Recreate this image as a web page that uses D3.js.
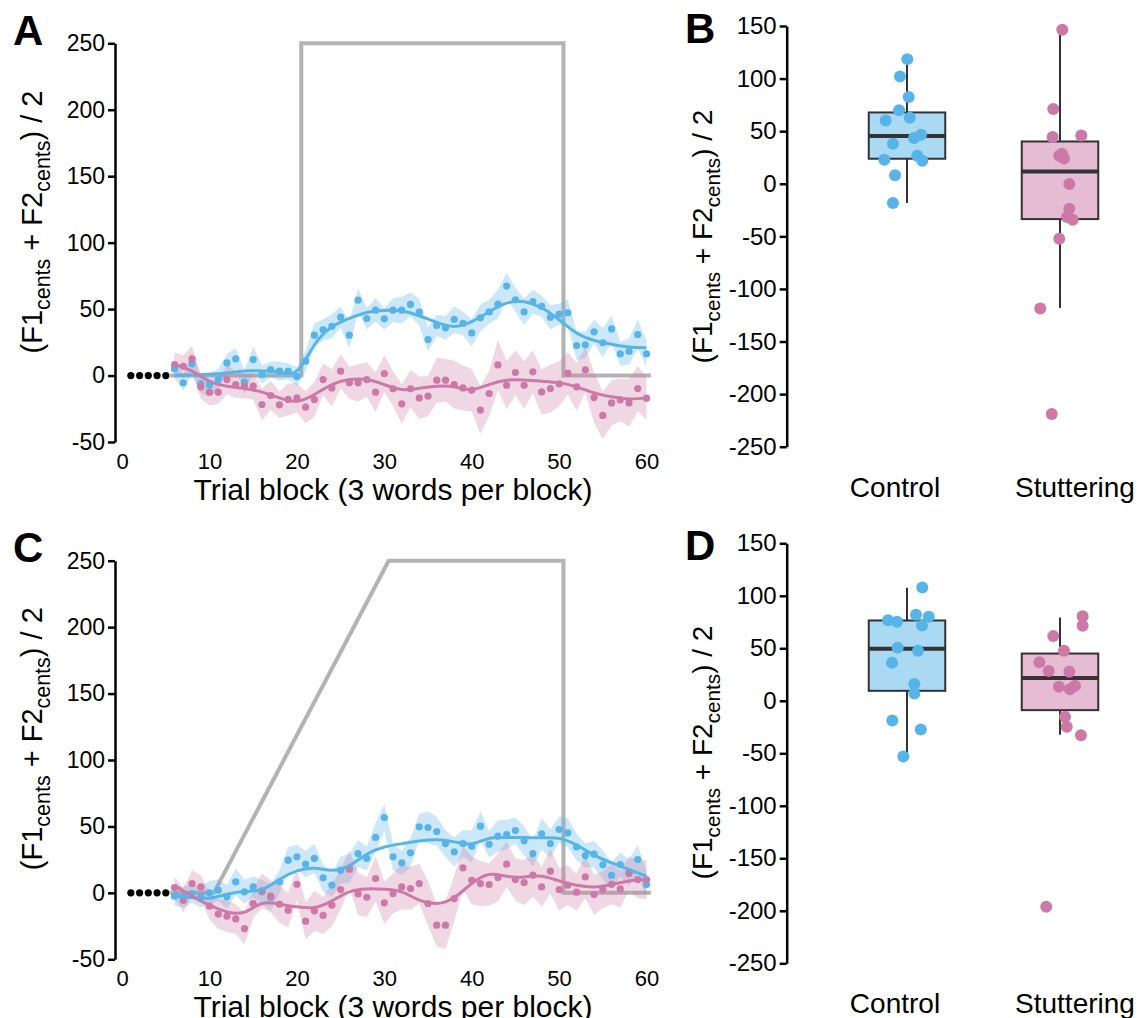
<!DOCTYPE html>
<html><head><meta charset="utf-8">
<script src="https://cdn.jsdelivr.net/npm/d3@7"></script>
<style>body{margin:0;background:#fff}svg{display:block}text{font-family:"Liberation Sans",Arial,sans-serif}</style>
</head><body><svg id="c" width="1138" height="1018"></svg>
<script>
// ---------- data ----------
const trials = d3.range(6, 61);            // trial blocks with data
const baselineTrials = [1, 2, 3, 4, 5];
const smoothTrials = d3.range(6, 61, 2);   // knots of fitted curves
const xTicks = [0, 10, 20, 30, 40, 50, 60];
const yTicksLine = [-50, 0, 50, 100, 150, 200, 250];
const yTicksBox = [-250, -200, -150, -100, -50, 0, 50, 100, 150];
const groups = ["Control", "Stuttering"];

// perturbation profiles [trial, cents]
const pertA = [[5.5, 0], [20.5, 0], [20.5, 250], [50.5, 250], [50.5, 0], [60.5, 0]];
const pertC = [[5.5, 0], [10.5, 0], [30.5, 250], [50.5, 250], [50.5, 0], [60.5, 0]];

// Panel A (sudden)
const aControl = [5, -5.5, 8.8, -6, -7, -3, 9.5, 12.5, -5, 12, 0.8, 4.5, 3.3, 3.3, -0.8,
  10.8, 30.4, 34.4, 37.1, 43.9, 30.4, 56.7, 42.9, 49.2, 42.7,
  49.2, 49.2, 53.5, 47.7, 27.1, 37.7, 35.9, 42.2, 39.2, 32.1,
  43.4, 47.9, 53.7, 67.3, 57, 47.9, 55.7, 52, 43.9, 46.2,
  47.2, 22.6, 23.1, 32.9, 24.6, 35.1, 16.3, 18.3, 30.9, 16.3];
const aControlSE = [7, 6, 8, 7, 9, 8, 7, 8, 9, 10, 7, 6, 7, 6, 7,
  8, 9, 8, 9, 8, 10, 9, 8, 9, 8,
  9, 10, 9, 10, 9, 8, 9, 10, 9, 10,
  10, 9, 11, 10, 9, 10, 9, 8, 9, 8,
  10, 11, 10, 9, 11, 10, 9, 10, 11, 10];
const aStutter = [8.3, 7, 12.5, -8.5, -12.5, -12.5, -3, -6.8, -8, -8, -21.8, -15, -22, -18, -16.8,
  -23.8, -18, -3, -9.3, 3.3, -5.5, -5.5, -3, -12.5, 1.5,
  -10, -21.3, -10, -16.8, -15.5, -3.5, -3.5, -6.8, -9.3, -11,
  -26, -13.5, 8, -7.3, 2.3, -7.3, 2.8, -12.3, -9.8, -6.3,
  1.8, -8.5, 4.3, -16.6, -30, -20.6, -18.3, -20.6, -9.8, -17];
const aStutterSE = [9, 8, 10, 9, 10, 9, 11, 10, 9, 10, 12, 11, 10, 12, 11,
  12, 13, 12, 14, 13, 12, 14, 13, 15, 14,
  13, 15, 14, 16, 15, 17, 16, 18, 17, 16,
  18, 17, 19, 18, 17, 18, 16, 17, 18, 17,
  16, 18, 17, 19, 18, 17, 16, 18, 17, 16];
const aControlFit = [0, 0.5, 1, 2, 3.5, 3.5, 2.5, 3.5, 23, 36.5, 43, 47.5, 49, 48.5,
  45, 40, 37, 40.5, 48, 54.5, 55.5, 51, 42, 32, 26.5, 23.5, 21.5, 21];
const aStutterFit = [8.3, 3.3, -4.3, -8, -9.8, -12.5, -16.8, -19.3, -14.3, -6.8, -3, -3, -6.8, -10.5,
  -9.5, -8, -8.5, -10.5, -6.8, -3.5, -3.3, -4.3, -5.5, -8.5, -13, -16, -17.6, -16.8];

// Panel C (gradual)
const cControl = [-2.5, -3, -0.5, -3, 0, 2, -3, 8.3, 0.8, 4.5, 0.8, -3.5, 8.3, 24.6, 27.1,
  21.6, 25.9, 11.3, 5.8, 17.1, 18.3, 29.6, 25.9, 41.7, 56.7,
  27.1, 22.6, 30.1, 49.7, 49.2, 46.2, 37.1, 30.9, 37.1, 35.1,
  50.2, 36.6, 42.7, 43.9, 46.9, 39.2, 29.6, 44.4, 37.1, 47.7,
  45.2, 34.6, 28.1, 29.1, 21.1, 13.1, 21.3, 15.1, 25.1, 6.3];
const cControlSE = [7, 8, 7, 8, 9, 8, 9, 10, 9, 8, 9, 10, 9, 10, 9,
  10, 11, 10, 9, 10, 11, 10, 9, 11, 10,
  10, 9, 11, 10, 12, 11, 10, 11, 10, 12,
  11, 10, 12, 11, 10, 11, 10, 12, 11, 10,
  11, 10, 9, 10, 11, 10, 9, 10, 11, 10];
const cStutter = [4, -5.5, 7, 4.5, -10, -16, -17.6, -19.6, -26.9, -8, 1.5, -2.5, -8.5, -13, 6.5,
  -21.3, -13.5, -17, -9.3, 2.5, 17.8, -0.8, -3.3, 10.8, -7.5,
  -0.5, 4.5, 3.3, 7, -8, -24.3, -24.3, -4.3, 18.8, 9.5,
  7, 6.3, 11.5, 21.6, 10, 7.8, 13.3, 4.5, 16.3, 2.5,
  5.8, 0.5, 12, -1.3, 2.5, 6.5, 3, 14.6, 10, 10];
const cStutterSE = [8, 9, 10, 9, 10, 11, 12, 11, 12, 11, 13, 12, 14, 13, 12,
  14, 15, 14, 16, 15, 14, 16, 15, 17, 16,
  15, 17, 16, 15, 17, 16, 18, 17, 16, 18,
  17, 16, 18, 17, 16, 17, 16, 15, 17, 16,
  15, 14, 16, 15, 14, 15, 14, 13, 14, 15];
const cControlFit = [-2.5, -3.5, -4, -1, 1, 2.5, 10, 16.5, 18.5, 17, 20.5, 29, 34.5, 37,
  39, 40, 38.4, 37, 41, 41.7, 41.7, 41.4, 41, 36, 28.4, 22.6, 17.6, 12.5];
const cStutterFit = [5.8, -2.5, -9.3, -14.3, -14.5, -8, -8.5, -10.5, -11, -6, 0.8, 3, 2.8, 0.8,
  -5.5, -8, -3.5, 7, 13.8, 12.5, 12, 12.5, 9, 5.8, 4.5, 6.3, 9, 10];

// Panel B (participant means, sudden)
const bControlVals = [118.5, 102, 82.4, 70, 60.2, 62.7, 46.6, 43.4, 38, 22.8, 26.6, 21.9, 8.2, -18.4];
const bControlJit = [0.002, -0.046, 0.011, -0.052, -0.139, 0.018, 0.092, 0.046, -0.092, -0.148, 0.067, 0.1, -0.078, -0.092];
const bStutterVals = [146.4, 71, 44.4, 45.9, 26.6, 28.5, 24.1, -0.3, -23.8, -31.7, -34.2, -52.3, -118.5, -219];
const bStutterJit = [0.015, -0.044, -0.048, 0.139, -0.005, 0.013, 0.026, 0.061, 0.061, 0.046, 0.083, -0.005, -0.129, -0.054];
// box stats: [lowWhisker, q1, median, q3, highWhisker]
const bControlBox = [-18.4, 23.8, 45.3, 67.8, 118.5];
const bStutterBox = [-118.2, -33.6, 11.7, 40.2, 146.4];

// Panel D (participant means, gradual)
const dControlVals = [108, 82, 80, 76.8, 75.2, 71.7, 50.5, 47.6, 36.2, 15.9, 7, -18.7, -27.3, -53];
const dControlJit = [0.1, 0.059, 0.142, -0.124, -0.065, 0.098, -0.061, 0.072, -0.098, 0.048, 0.048, -0.096, 0.09, -0.024];
const dStutterVals = [80.6, 71.4, 61.6, 47.6, 36.8, 28.3, 27.6, 13.3, 14.3, 11.1, -15.2, -24.8, -32.7, -196.2];
const dStutterJit = [0.148, 0.148, -0.044, 0.026, -0.135, -0.074, 0.061, -0.007, 0.098, 0.065, 0.033, 0.044, 0.137, -0.09];
const dControlBox = [-53, 9.5, 49.5, 76.5, 107.6];
const dStutterBox = [-32.4, -8.9, 21.6, 45, 79.4];

// ---------- style ----------
const BLUE = "#56b4e9", PINK = "#cc79a7", GREY = "#b3b3b3";
const svg = d3.select("#c");

function yTitle(x, y, size) {
  const t = svg.append("text")
    .attr("transform", `translate(${x},${y}) rotate(-90)`)
    .attr("text-anchor", "middle").attr("font-size", size).attr("fill", "#000");
  const sh = size * 0.28;
  t.append("tspan").text("(F1");
  t.append("tspan").attr("font-size", size * 0.74).attr("dy", sh).text("cents");
  t.append("tspan").attr("dy", -sh).text(" + F2");
  t.append("tspan").attr("font-size", size * 0.74).attr("dy", sh).text("cents");
  t.append("tspan").attr("dy", -sh).text(") / 2");
}

function letter(txt, x, y) {
  svg.append("text").attr("x", x).attr("y", y).attr("font-size", 42)
    .attr("font-weight", "bold").text(txt);
}

function styleAxis(g, fs) {
  g.select(".domain").attr("stroke", "#000").attr("stroke-width", 2.5);
  g.selectAll(".tick line").attr("stroke", "#000").attr("stroke-width", 2.5);
  g.selectAll(".tick text").attr("font-size", fs).attr("fill", "#000")
    .attr("font-family", '"Liberation Sans",Arial,sans-serif');
}

function linePanel(cfg) {
  const g = svg.append("g");
  const x = d3.scaleLinear().domain([0, 60]).range([122.1, 646.5]);
  const y = d3.scaleLinear().domain([-50, 250]).range([cfg.yBot, cfg.yTop]);

  const ya = g.append("g").attr("transform", "translate(115,0)")
    .call(d3.axisLeft(y).tickValues(yTicksLine).tickSize(7).tickSizeOuter(0)
      .tickPadding(3).tickFormat(d => String(d)));
  styleAxis(ya, 23);
  const xa = g.append("g").attr("transform", `translate(0,${cfg.yBot})`)
    .call(d3.axisBottom(x).tickValues(xTicks).tickSize(0).tickPadding(11).tickFormat(d => String(d)));
  xa.select(".domain").remove();
  styleAxis(xa, 22);

  g.append("text").attr("x", 393).attr("y", cfg.yBot + 58).attr("text-anchor", "middle")
    .attr("font-size", 30).text("Trial block (3 words per block)");

  g.append("path").datum(cfg.pert)
    .attr("d", d3.line().x(d => x(d[0])).y(d => y(d[1])))
    .attr("fill", "none").attr("stroke", GREY).attr("stroke-width", 4);

  g.selectAll("circle.base").data(baselineTrials).join("circle")
    .attr("cx", d => x(d)).attr("cy", y(0)).attr("r", 3.6).attr("fill", "#000");

  const area = d3.area().x((d, i) => x(trials[i]))
    .y0(d => y(d[0] - d[1])).y1(d => y(d[0] + d[1]));
  cfg.series.forEach(s => {
    g.append("path").datum(s.vals.map((v, i) => [v, s.se[i]]))
      .attr("d", area).attr("fill", s.color).attr("fill-opacity", 0.3);
  });
  cfg.series.forEach(s => {
    g.append("g").selectAll("circle").data(s.vals).join("circle")
      .attr("cx", (d, i) => x(trials[i])).attr("cy", d => y(d)).attr("r", 3.6)
      .attr("fill", s.color);
  });
  const fitLine = d3.line().curve(d3.curveNatural)
    .x((d, i) => x(smoothTrials[i])).y(d => y(d));
  cfg.series.forEach(s => {
    g.append("path").datum(s.fit).attr("d", fitLine)
      .attr("fill", "none").attr("stroke", s.color).attr("stroke-width", 3);
  });
}

function boxPanel(cfg) {
  const g = svg.append("g");
  const x = d3.scalePoint().domain(groups).range([907, 1060]);
  const xLab = d3.scalePoint().domain(groups).range([895, 1075]);
  const step = x.step();
  const y = d3.scaleLinear().domain([-250, 150]).range([cfg.yBot, cfg.yTop]);
  const ya = g.append("g").attr("transform", "translate(786.7,0)")
    .call(d3.axisLeft(y).tickValues(yTicksBox).tickSize(7).tickSizeOuter(0)
      .tickPadding(3).tickFormat(d => String(d)));
  styleAxis(ya, 24);
  groups.forEach(grp => {
    g.append("text").attr("x", xLab(grp)).attr("y", cfg.yBot + 50)
      .attr("text-anchor", "middle").attr("font-size", 28).text(grp);
  });
  cfg.series.forEach(s => {
    const cx = x(s.group), hw = step * 0.25, b = s.box;
    g.append("line").attr("x1", cx).attr("x2", cx).attr("y1", y(b[3])).attr("y2", y(b[4]))
      .attr("stroke", "#333").attr("stroke-width", 2);
    g.append("line").attr("x1", cx).attr("x2", cx).attr("y1", y(b[1])).attr("y2", y(b[0]))
      .attr("stroke", "#333").attr("stroke-width", 2);
    g.append("rect").attr("x", cx - hw).attr("width", 2 * hw)
      .attr("y", y(b[3])).attr("height", y(b[1]) - y(b[3]))
      .attr("fill", s.color).attr("fill-opacity", 0.5)
      .attr("stroke", "#333").attr("stroke-width", 2);
    g.append("line").attr("x1", cx - hw).attr("x2", cx + hw).attr("y1", y(b[2])).attr("y2", y(b[2]))
      .attr("stroke", "#333").attr("stroke-width", 4);
  });
  cfg.series.forEach(s => {
    g.append("g").selectAll("circle").data(s.vals).join("circle")
      .attr("cx", (d, i) => x(s.group) + s.jit[i] * step).attr("cy", d => y(d))
      .attr("r", 6).attr("fill", s.color);
  });
}

linePanel({ yTop: 43.3, yBot: 442, pert: pertA, series: [
  { vals: aControl, se: aControlSE, fit: aControlFit, color: BLUE },
  { vals: aStutter, se: aStutterSE, fit: aStutterFit, color: PINK }] });
linePanel({ yTop: 560.7, yBot: 959.3, pert: pertC, series: [
  { vals: cControl, se: cControlSE, fit: cControlFit, color: BLUE },
  { vals: cStutter, se: cStutterSE, fit: cStutterFit, color: PINK }] });
boxPanel({ yTop: 26, yBot: 446.7, series: [
  { group: "Control", vals: bControlVals, jit: bControlJit, box: bControlBox, color: BLUE },
  { group: "Stuttering", vals: bStutterVals, jit: bStutterJit, box: bStutterBox, color: PINK }] });
boxPanel({ yTop: 543.3, yBot: 963.3, series: [
  { group: "Control", vals: dControlVals, jit: dControlJit, box: dControlBox, color: BLUE },
  { group: "Stuttering", vals: dStutterVals, jit: dStutterJit, box: dStutterBox, color: PINK }] });

yTitle(42, 222, 29);
yTitle(42, 738.7, 29);
yTitle(712, 236.5, 28);
yTitle(712, 752.5, 28);
letter("A", 13, 45);
letter("C", 13, 562);
letter("B", 685, 43);
letter("D", 685, 560);
</script></body></html>
